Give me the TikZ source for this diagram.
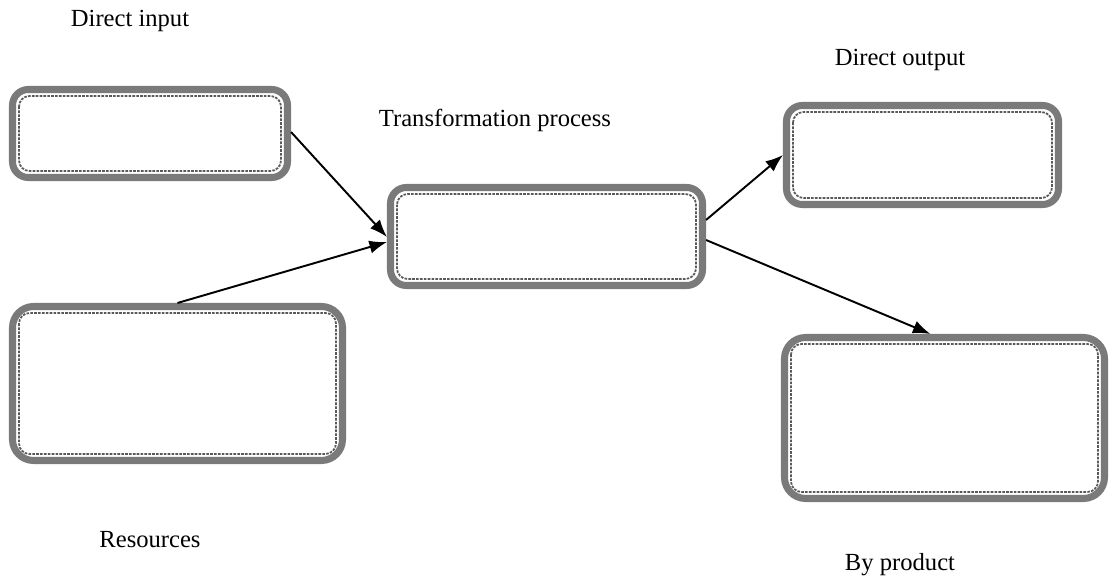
\documentclass[tikz,border=0pt]{standalone}
\usepackage{fontspec}
\setmainfont{Liberation Serif}
\usepackage{xcolor}
\usepackage{tikz}
\usetikzlibrary{arrows.meta}

\begin{document}
\begin{tikzpicture}[
        box/.style={draw=black!52, line width=4pt, rectangle, rounded corners=9pt},
        inner/.style={draw=black!65, line width=1pt, dash pattern=on 1.5pt off 0.7pt, rounded corners=6pt},
        label/.style={font=\fontsize{14pt}{16pt}\selectfont},
        arrow/.style={-{Latex[length=10pt, width=7.5pt]}, line width=1.1pt}
    ]
    \useasboundingbox (0,0) rectangle (22.24,-11.64);

    % Direct input block
    \node[box, minimum width=5.5cm, minimum height=1.76cm] (input) at (3.0,-2.67) {};
    \node[label] (inputlabel) at (2.6,-0.42) {Direct input};

    % Resources block
    \node[box, rounded corners=12pt, minimum width=6.6cm, minimum height=3.08cm] (resources) at (3.55,-7.67) {};
    \node[label] (resourceslabel) at (3.0,-10.80) {Resources};

    % Transformation block
    \node[box, minimum width=6.24cm, minimum height=1.96cm] (process) at (10.93,-4.73) {};
    \node[label] (processlabel) at (9.9,-2.40) {Transformation process};

    % Direct output block
    \node[box, minimum width=5.44cm, minimum height=1.98cm] (output) at (18.45,-3.10) {};
    \node[label] (outputlabel) at (18.0,-1.20) {Direct output};

    % By product block
    \node[box, rounded corners=12pt, minimum width=6.4cm, minimum height=3.22cm] (byproduct) at (18.89,-8.36) {};
    \node[label] (byproductlabel) at (18.0,-11.30) {By product};

    % Inner lines of the blocks
    \foreach \n in {input,resources,process,output,byproduct}
        \draw[inner] ([shift={(5.7pt,-5.7pt)}]\n.north west) rectangle ([shift={(-5.7pt,5.7pt)}]\n.south east);

    % Flow arrows
    \draw[arrow] ([yshift=0.03cm]input.east) -- ([yshift=-0.01cm]process.west);
    \draw[arrow] (resources.north) -- ([yshift=-0.11cm]process.west);
    \draw[arrow] ([yshift=0.33cm]process.east) -- (output.west);
    \draw[arrow] ([yshift=-0.07cm]process.east) -- ([xshift=-0.28cm]byproduct.north);

\end{tikzpicture}
\end{document}
